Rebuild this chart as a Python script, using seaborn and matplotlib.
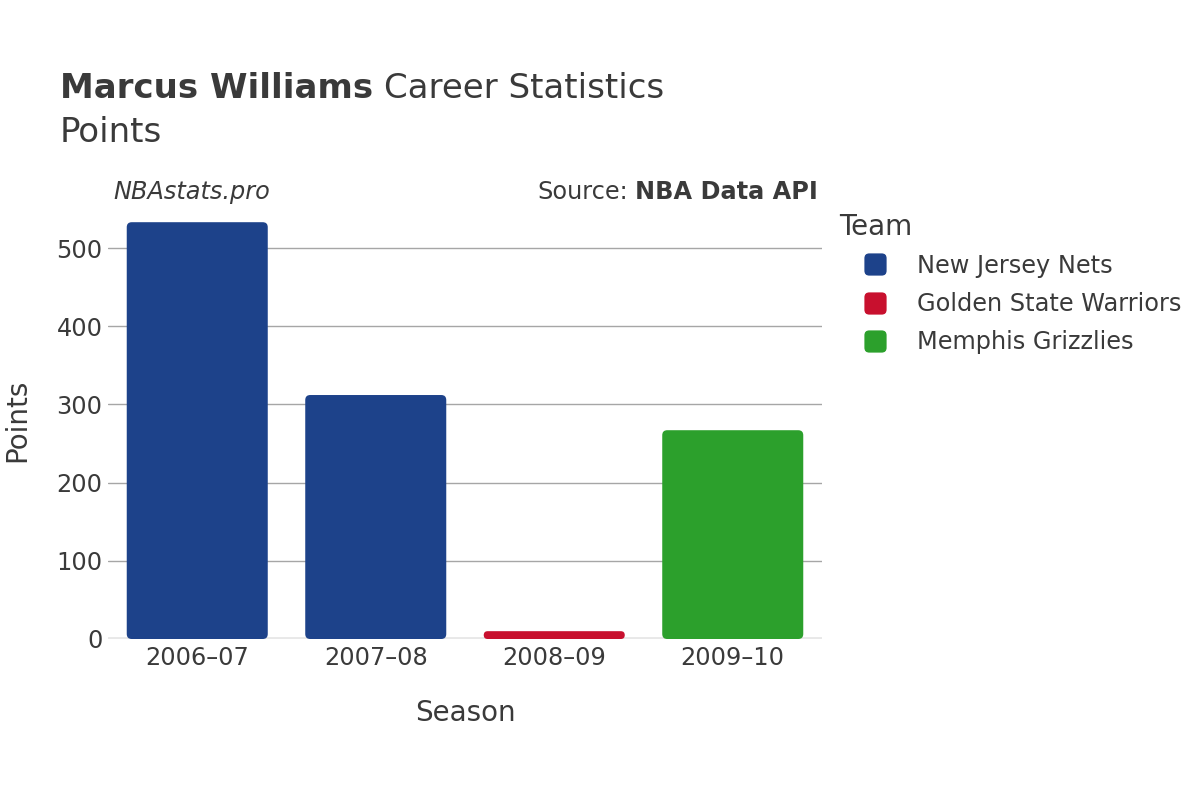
import matplotlib
matplotlib.use("Agg")
import matplotlib.pyplot as plt
import seaborn as sns
import pandas as pd
from matplotlib.patches import FancyBboxPatch, BoxStyle
from matplotlib.lines import Line2D

seasons = ["2006–07", "2007–08", "2008–09", "2009–10"]
teams = ["New Jersey Nets", "New Jersey Nets", "Golden State Warriors", "Memphis Grizzlies"]
points = [533, 312, 10, 267]
team_order = ["New Jersey Nets", "Golden State Warriors", "Memphis Grizzlies"]
team_colors = ["#1D428A", "#C8102E", "#2CA02C"]

df = pd.DataFrame({"Season": seasons, "Team": teams, "Points": points})

sns.set_theme(style="white")
plt.rcParams["font.family"] = ["DejaVu Sans"]
text_color = "#3a3a3a"

fig = plt.figure(figsize=(12, 8), dpi=100)
ax = fig.add_axes([108 / 1200, 161 / 800, 714 / 1200, 429 / 800])

sns.barplot(data=df, x="Season", y="Points", hue="Team", hue_order=team_order,
            palette=team_colors, dodge=False, width=0.79, ax=ax, legend=False,
            saturation=1, order=seasons)

ax.set_xlim(-0.5, 3.5)
ax.set_ylim(0, 548.6)

# replace bars with rounded versions, derived from seaborn's patches
fig.canvas.draw()
px_per_x = ax.transData.transform((1, 0))[0] - ax.transData.transform((0, 0))[0]
px_per_y = ax.transData.transform((0, 1))[1] - ax.transData.transform((0, 0))[1]
old = [p for p in ax.patches]
for p in old:
    x, y, w, h = p.get_x(), p.get_y(), p.get_width(), p.get_height()
    if h <= 0 or w != w:
        p.remove()
        continue
    color = p.get_facecolor()
    p.remove()
    r_px = min(5, h * px_per_y / 2)
    fb = FancyBboxPatch((x, y), w, h,
                        boxstyle=BoxStyle.Round(pad=0, rounding_size=r_px / px_per_x),
                        mutation_aspect=px_per_x / px_per_y,
                        facecolor=color, edgecolor="none", zorder=3)
    ax.add_patch(fb)

ax.set_yticks([0, 100, 200, 300, 400, 500])
ax.yaxis.grid(True, color="#a6a6a6", linewidth=1)
ax.set_axisbelow(True)
ax.axhline(0, color="#e8e8e8", linewidth=3.5, zorder=2)
for s in ax.spines.values():
    s.set_visible(False)
ax.tick_params(axis="both", length=0, labelsize=17.3, colors=text_color)
ax.tick_params(axis="y", pad=4)
ax.tick_params(axis="x", pad=5)
ax.set_xlabel("Season", fontsize=20, color=text_color, labelpad=21)
ax.set_ylabel("Points", fontsize=20, color=text_color)
ax.yaxis.set_label_coords(-0.107, 0.51)

# titles
renderer = fig.canvas.get_renderer()
t1 = fig.text(60 / 1200, 1 - 89 / 800, "Marcus Williams", fontsize=24.5, fontweight="bold",
              color=text_color, va="center", ha="left")
bb = t1.get_window_extent(renderer)
fig.text((bb.x1 + 11) / 1200, 1 - 89 / 800, "Career Statistics", fontsize=24.5,
         color=text_color, va="center", ha="left")
fig.text(60 / 1200, 1 - 132 / 800, "Points", fontsize=24.5,
         color=text_color, va="center", ha="left")
fig.text(113 / 1200, 1 - 192 / 800, "NBAstats.pro", fontsize=17.3, style="italic",
         color=text_color, va="center", ha="left")
t2 = fig.text(818 / 1200, 1 - 192 / 800, "NBA Data API", fontsize=17.3, fontweight="bold",
              color=text_color, va="center", ha="right")
bb2 = t2.get_window_extent(renderer)
fig.text((bb2.x0 - 7) / 1200, 1 - 192 / 800, "Source:", fontsize=17.3,
         color=text_color, va="center", ha="right")

# legend with rounded-square markers
sq = BoxStyle.Round(pad=0, rounding_size=0.22)(-0.5, -0.5, 1, 1, 1.0)
handles = [Line2D([], [], linestyle="none", marker=sq, markersize=16,
                  markerfacecolor=c, markeredgecolor="none") for c in team_colors]
leg = fig.legend(handles, team_order, title="Team", loc="upper left",
                 bbox_to_anchor=(839 / 1200, 1 - 213 / 800), frameon=False,
                 fontsize=17.3, title_fontsize=20, alignment="left",
                 handlelength=3.0, handletextpad=0.25, labelspacing=0.6,
                 borderpad=0, borderaxespad=0)
leg._legend_box.sep = 9
for t in leg.get_texts():
    t.set_color(text_color)
leg.get_title().set_color(text_color)

fig.savefig("out.png", dpi=100, facecolor="white")
